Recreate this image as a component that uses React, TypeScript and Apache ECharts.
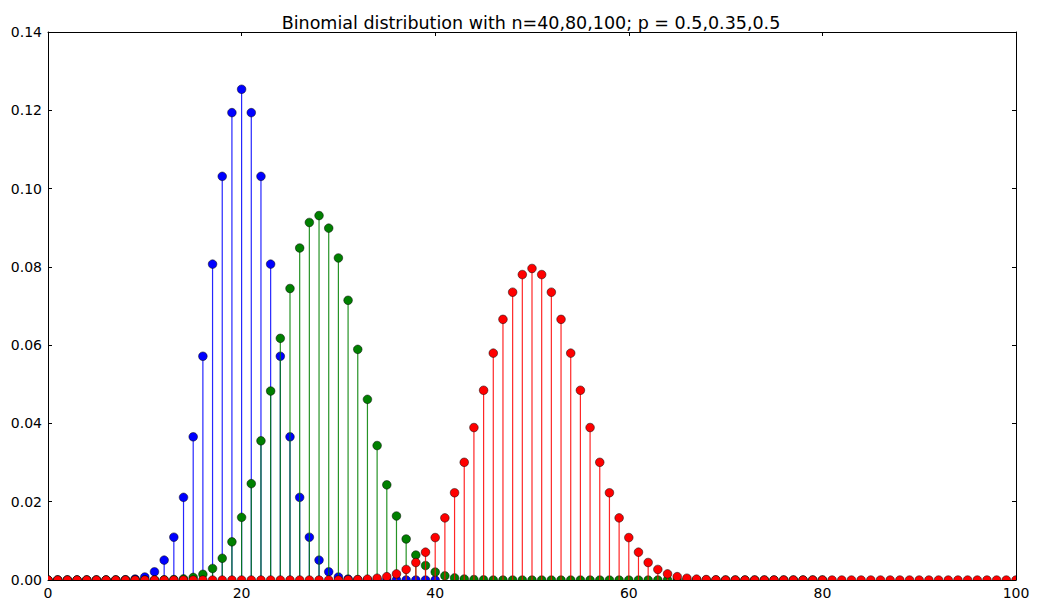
import React, { useEffect, useRef } from "react";
import * as echarts from "echarts";

const titleText = "Binomial distribution with n=40,80,100; p = 0.5,0.35,0.5";
const xTicks = [0, 20, 40, 60, 80, 100];
const yTicks = [0, 0.02, 0.04, 0.06, 0.08, 0.1, 0.12, 0.14];

// n=40, p=0.5 (k = 0..40), rows of 10
const blueValues = [
  0, 0, 0, 0, 0, 0, 0, 0, 0.00007, 0.00025,
  0.00077, 0.0021, 0.00508, 0.01094, 0.02111, 0.03658, 0.05716, 0.0807, 0.10312, 0.1194,
  0.12537, 0.1194, 0.10312, 0.0807, 0.05716, 0.03658, 0.02111, 0.01094, 0.00508, 0.0021,
  0.00077, 0.00025, 0.00007, 0, 0, 0, 0, 0, 0, 0,
  0,
];

// n=80, p=0.35 (k = 0..80), rows of 10
const greenValues = [
  0, 0, 0, 0, 0, 0, 0, 0, 0, 0,
  0, 0, 0.00004, 0.00011, 0.00028, 0.00066, 0.00145, 0.00294, 0.00555, 0.00975,
  0.016, 0.02462, 0.03556, 0.04828, 0.06174, 0.07447, 0.08482, 0.09134, 0.0931, 0.08989,
  0.08228, 0.07146, 0.05892, 0.04615, 0.03435, 0.02431, 0.01636, 0.01048, 0.00638, 0.0037,
  0.00204, 0.00107, 0.00054, 0.00026, 0.00012, 0.00005, 0, 0, 0, 0,
  0, 0, 0, 0, 0, 0, 0, 0, 0, 0,
  0, 0, 0, 0, 0, 0, 0, 0, 0, 0,
  0, 0, 0, 0, 0, 0, 0, 0, 0, 0,
  0,
];

// n=100, p=0.5 (k = 0..100), rows of 10
const redValues = [
  0, 0, 0, 0, 0, 0, 0, 0, 0, 0,
  0, 0, 0, 0, 0, 0, 0, 0, 0, 0,
  0, 0, 0, 0, 0, 0, 0, 0, 0, 0,
  0, 0.00005, 0.00011, 0.00023, 0.00046, 0.00086, 0.00156, 0.0027, 0.00447, 0.00711,
  0.01084, 0.01587, 0.02229, 0.03007, 0.03895, 0.04847, 0.05796, 0.06659, 0.07353, 0.07803,
  0.07959, 0.07803, 0.07353, 0.06659, 0.05796, 0.04847, 0.03895, 0.03007, 0.02229, 0.01587,
  0.01084, 0.00711, 0.00447, 0.0027, 0.00156, 0.00086, 0.00046, 0.00023, 0.00011, 0.00005,
  0, 0, 0, 0, 0, 0, 0, 0, 0, 0,
  0, 0, 0, 0, 0, 0, 0, 0, 0, 0,
  0, 0, 0, 0, 0, 0, 0, 0, 0, 0,
  0,
];

const FONT = "DejaVu Sans";

function stemSeries(name: string, values: number[], color: string) {
  return {
    type: "custom",
    name,
    clip: true,
    encode: { x: 0, y: 1 },
    data: values.map((v, k) => [k, v]),
    renderItem: (_params: any, api: any) => {
      const x = api.value(0);
      const y = api.value(1);
      const p0 = api.coord([x, 0]);
      const p1 = api.coord([x, y]);
      return {
        type: "group",
        children: [
          {
            type: "line",
            shape: { x1: p0[0], y1: p0[1], x2: p1[0], y2: p1[1] },
            style: { stroke: color, lineWidth: 1.2, opacity: 0.85 },
          },
          {
            type: "circle",
            shape: { cx: p1[0], cy: p1[1], r: 4.3 },
            style: { fill: color, stroke: "#000", lineWidth: 0.5 },
          },
        ],
      };
    },
  };
}

export default function App() {
  const ref = useRef<HTMLDivElement>(null);
  useEffect(() => {
    if (!ref.current) return;
    const chart = echarts.init(ref.current, null, { renderer: "svg" });
    const tickCommon = {
      show: true,
      inside: true,
      length: 4,
      lineStyle: { color: "#000", width: 1 },
    };
    const lineCommon = { show: true, onZero: false, lineStyle: { color: "#000", width: 1 } };
    chart.setOption({
      animation: false,
      backgroundColor: "#fff",
      title: {
        text: titleText,
        left: 526,
        textAlign: "center",
        top: 9,
        textStyle: { fontFamily: FONT, fontSize: 17.5, fontWeight: "normal", color: "#000" },
      },
      grid: { left: 48, right: 26, top: 32, bottom: 24, containLabel: false },
      xAxis: [
        {
          type: "value",
          min: xTicks[0],
          max: xTicks[xTicks.length - 1],
          interval: 20,
          position: "bottom",
          axisLine: lineCommon,
          axisTick: tickCommon,
          splitLine: { show: false },
          axisLabel: {
            margin: 6,
            fontFamily: FONT,
            fontSize: 14,
            color: "#000",
            showMaxLabel: true,
            showMinLabel: true,
          },
        },
        {
          type: "value",
          min: xTicks[0],
          max: xTicks[xTicks.length - 1],
          interval: 20,
          position: "top",
          axisLine: lineCommon,
          axisTick: tickCommon,
          splitLine: { show: false },
          axisLabel: { show: false },
        },
      ],
      yAxis: [
        {
          type: "value",
          min: yTicks[0],
          max: yTicks[yTicks.length - 1],
          interval: 0.02,
          position: "left",
          axisLine: lineCommon,
          axisTick: tickCommon,
          splitLine: { show: false },
          axisLabel: {
            margin: 6,
            fontFamily: FONT,
            fontSize: 14,
            color: "#000",
            formatter: (v: number) => v.toFixed(2),
          },
        },
        {
          type: "value",
          min: yTicks[0],
          max: yTicks[yTicks.length - 1],
          interval: 0.02,
          position: "right",
          axisLine: lineCommon,
          axisTick: tickCommon,
          splitLine: { show: false },
          axisLabel: { show: false },
        },
      ],
      series: [
        stemSeries("n=40, p=0.5", blueValues, "#0000ff"),
        stemSeries("n=80, p=0.35", greenValues, "#008000"),
        stemSeries("n=100, p=0.5", redValues, "#ff0000"),
      ],
    });
    return () => chart.dispose();
  }, []);
  return (
    <div
      ref={ref}
      style={{ position: "absolute", left: 0, top: 0, width: 1042, height: 604 }}
    />
  );
}
